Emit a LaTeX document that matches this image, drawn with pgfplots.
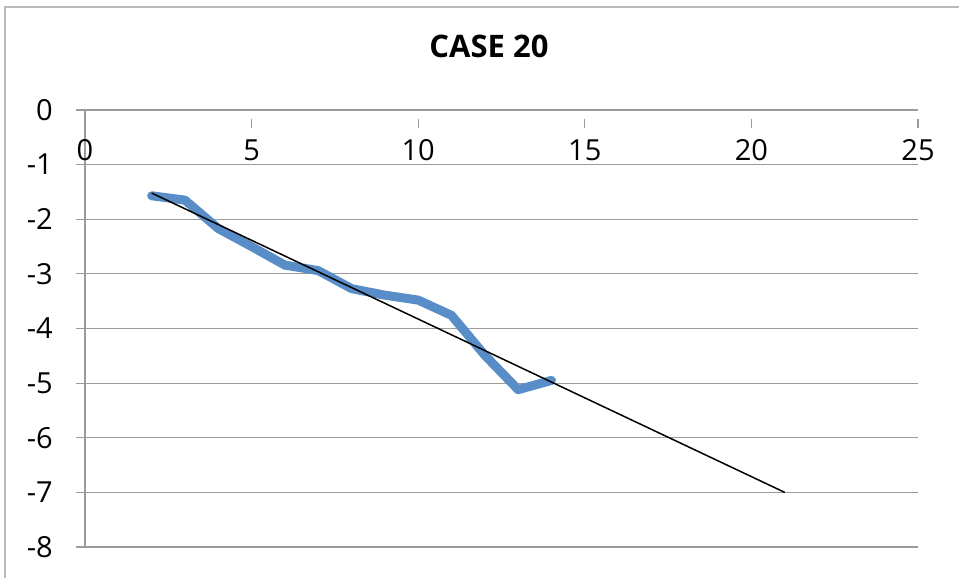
\documentclass[border=0pt]{standalone}
\usepackage{pgfplots}
\pgfplotsset{compat=1.18}
\usepackage{fontspec}
\setmainfont{Open Sans}
\definecolor{serblue}{RGB}{89,141,199}
\definecolor{gridgray}{RGB}{155,155,155}
\begin{document}
\begin{tikzpicture}
  \useasboundingbox (0bp,0bp) rectangle (959bp,578bp);
  \draw[gridgray!70, line width=1.2bp] (5bp,0bp) -- (5bp,571bp) -- (959bp,571bp);
  \begin{axis}[
      at={(85bp,31bp)}, anchor=south west,
      scale only axis,
      width=833bp, height=437bp,
      xmin=0, xmax=25, ymin=-8, ymax=0,
      axis x line=middle, axis y line=left,
      axis line style={-, gridgray, line width=1.2bp},
      hide obscured x ticks=false, hide obscured y ticks=false,
      xtick={0,5,...,25}, ytick={-8,-7,...,0},
      ymajorgrids,
      grid style={gridgray, line width=1.2bp},
      major tick length=9bp,
      tick align=outside,
      tick style={gridgray, line width=1.2bp},
      x tick style={yshift=-9bp},
      /pgf/number format/assume math mode=true,
      ticklabel style={font=\fontsize{29bp}{29bp}\selectfont, black, inner sep=0pt},
      xticklabel style={anchor=base, yshift=-42bp},
      yticklabel style={anchor=east, xshift=-23bp},
      title={CASE 20},
      title style={font=\fontsize{31bp}{31bp}\selectfont\bfseries, inner sep=0pt,
        at={(0.5,1)}, anchor=base, xshift=-12.5bp, yshift=46.5bp},
      clip=false,
    ]
    \addplot[serblue, line width=9bp, line join=round, line cap=round] coordinates {
      (2,-1.57) (3,-1.65) (4,-2.17) (5,-2.50) (6,-2.84) (7,-2.94) (8,-3.27)
      (9,-3.39) (10,-3.48) (11,-3.76) (12,-4.49) (13,-5.12) (14,-4.95)
    };
    \addplot[black, line width=1.5bp] coordinates {
      (2,-1.52) (21,-7.0)
    };
  \end{axis}
\end{tikzpicture}
\end{document}
